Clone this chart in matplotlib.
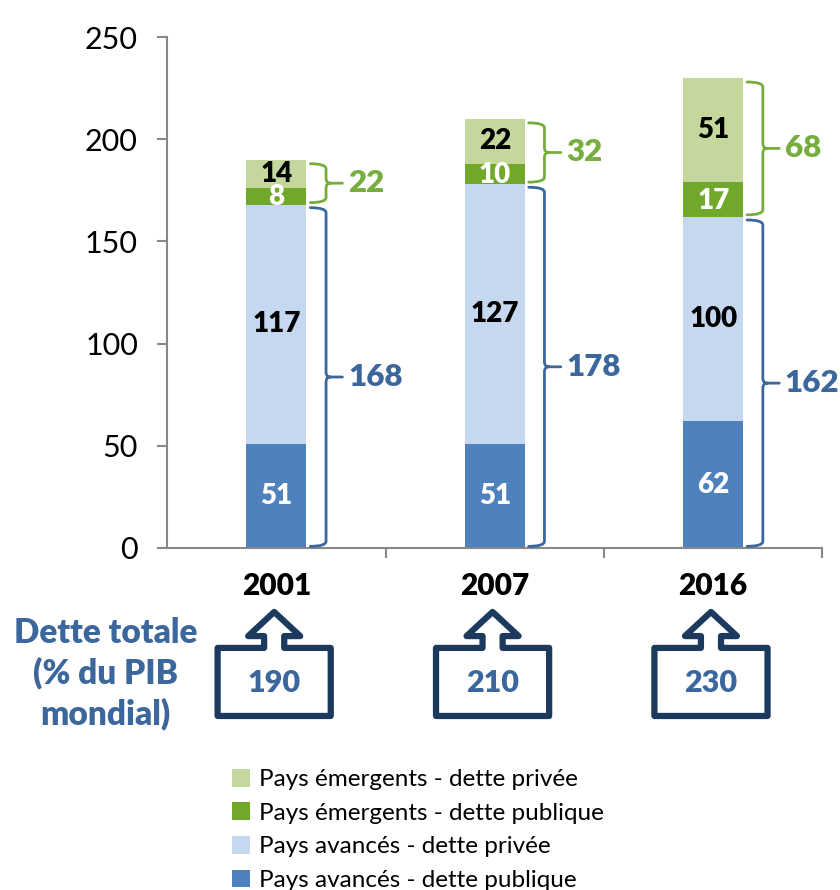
import matplotlib
matplotlib.use("Agg")
import matplotlib.pyplot as plt
from matplotlib.path import Path
from matplotlib.patches import PathPatch, Patch
import numpy as np

plt.rcParams['font.family'] = ['Lato', 'DejaVu Sans']

years = ["2001", "2007", "2016"]
adv_public = [51, 51, 62]
adv_private = [117, 127, 100]
em_public = [8, 10, 17]
em_private = [14, 22, 51]
adv_total = [168, 178, 162]
em_total = [22, 32, 68]
total_debt = [190, 210, 230]
series_labels = ["Pays émergents - dette privée", "Pays émergents - dette publique",
                 "Pays avancés - dette privée", "Pays avancés - dette publique"]

C_DB = "#4F81BD"
C_LB = "#C6D8F0"
C_G = "#70A82C"
C_LG = "#C4D79C"
C_GTXT = "#76AE3D"
C_BTXT = "#3B679C"
C_NAVY = "#1C3A5E"
C_AX = "#888888"

fig = plt.figure(figsize=(8.4, 8.9), dpi=100)
ax = fig.add_axes([0.199, 0.3843, 0.780, 0.5741])

x = np.arange(len(years))
w = 0.275
b1 = np.array(adv_public)
b2 = b1 + np.array(adv_private)
b3 = b2 + np.array(em_public)
ax.bar(x, adv_public, w, color=C_DB, zorder=2)
ax.bar(x, adv_private, w, bottom=b1, color=C_LB, zorder=2)
ax.bar(x, em_public, w, bottom=b2, color=C_G, zorder=2)
ax.bar(x, em_private, w, bottom=b3, color=C_LG, zorder=2)

lab_kw = dict(ha='center', va='center', fontsize=20, fontweight='heavy', zorder=3)
for i in range(len(years)):
    ax.text(x[i], adv_public[i] / 2, str(adv_public[i]), color='white', **lab_kw)
    ax.text(x[i], b1[i] + adv_private[i] / 2, str(adv_private[i]), color='black', **lab_kw)
    ax.text(x[i], b2[i] + em_public[i] / 2 - 0.5, str(em_public[i]), color='white', **lab_kw)
    ax.text(x[i], b3[i] + em_private[i] / 2, str(em_private[i]), color='black', **lab_kw)

ax.set_xlim(-0.5, 2.5)
ax.set_ylim(0, 250)
ax.set_yticks(range(0, 251, 50))
ax.tick_params(axis='y', labelsize=22, length=7, width=1.5, color=C_AX, pad=14, direction='out')
ax.set_xticks(x)
ax.set_xticklabels(years, fontsize=21.5, fontweight='heavy')
ax.tick_params(axis='x', which='major', length=0, pad=17)
ax.set_xticks([0.5, 1.5, 2.5], minor=True)
ax.tick_params(axis='x', which='minor', length=7, width=1.5, color=C_AX, direction='out')
for s in ['top', 'right']:
    ax.spines[s].set_visible(False)
for s in ['left', 'bottom']:
    ax.spines[s].set_color(C_AX)
    ax.spines[s].set_linewidth(1.5)


def brace(xc, ylo, yhi, color, label):
    edge = xc + w / 2
    xe = edge + 0.018
    xv = edge + 0.09
    xt = edge + 0.165
    ym = (ylo + yhi) / 2
    r = 2.5
    dx = 0.02
    verts = [(xe, ylo), (xv, ylo), (xv, ylo + r),
             (xv, ym - r), (xv, ym), (xv + dx, ym),
             (xt, ym),
             (xv + dx, ym), (xv, ym), (xv, ym + r),
             (xv, yhi - r), (xv, yhi), (xe, yhi)]
    codes = [Path.MOVETO, Path.CURVE3, Path.CURVE3,
             Path.LINETO, Path.CURVE3, Path.CURVE3,
             Path.LINETO,
             Path.MOVETO, Path.CURVE3, Path.CURVE3,
             Path.LINETO, Path.CURVE3, Path.CURVE3]
    ax.add_patch(PathPatch(Path(verts, codes), fill=False, edgecolor=color,
                           lw=2.0, clip_on=False, zorder=3, capstyle='round'))
    ax.text(edge + 0.19, ym, label, ha='left', va='center', fontsize=22.5,
            fontweight='heavy', color=color, clip_on=False)


for i in range(len(years)):
    brace(x[i], 0.8, adv_total[i] - 1.5, C_BTXT, str(adv_total[i]))
    brace(x[i], adv_total[i] + 1.0, total_debt[i] - 2.0, C_GTXT, str(em_total[i]))


def arrow_box(xc, value):
    hw = 0.259
    top, bot = -48.9, -82.2
    apex, wing = -31.3, -43.1
    whw, shw = 0.119, 0.046
    verts = [(xc - hw, top), (xc - shw, top), (xc - shw, wing), (xc - whw, wing),
             (xc, apex), (xc + whw, wing), (xc + shw, wing), (xc + shw, top),
             (xc + hw, top), (xc + hw, bot), (xc - hw, bot), (xc - hw, top)]
    codes = [Path.MOVETO] + [Path.LINETO] * 10 + [Path.CLOSEPOLY]
    ax.add_patch(PathPatch(Path(verts, codes), fill=False, edgecolor=C_NAVY, lw=4.5,
                           joinstyle='round', clip_on=False, zorder=3))
    ax.text(xc, -66.0, str(value), ha='center', va='center', fontsize=22,
            fontweight='heavy', color=C_BTXT, clip_on=False)


for i in range(len(years)):
    arrow_box(x[i] - 0.01, total_debt[i])

fig.text(0.126, 0.243, "Dette totale\n(% du PIB\nmondial)", ha='center', va='center',
         fontsize=24, fontweight='heavy', color=C_BTXT, linespacing=1.3)

handles = [Patch(facecolor=C_LG), Patch(facecolor=C_G), Patch(facecolor=C_LB), Patch(facecolor=C_DB)]
fig.legend(handles, series_labels, loc='upper left', bbox_to_anchor=(0.276, 0.136),
           frameon=False, fontsize=17.5, handlelength=0.75, handleheight=0.75,
           handletextpad=0.35, labelspacing=0.5, borderaxespad=0, borderpad=0)

fig.savefig("out.png", dpi=100)
